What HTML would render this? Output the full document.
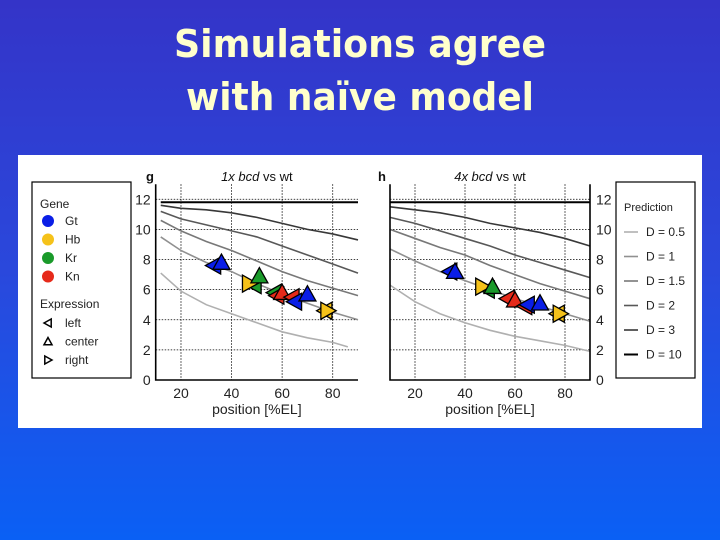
<!DOCTYPE html>
<html><head><meta charset="utf-8"><style>
html,body{margin:0;padding:0;width:720px;height:540px;overflow:hidden}
body{background:linear-gradient(180deg,#3434c8 0%,#2a48dc 50%,#0a60f5 100%);font-family:"Liberation Sans",sans-serif}
</style></head><body>
<svg id="svg" width="720" height="540" viewBox="0 0 720 540" xmlns="http://www.w3.org/2000/svg">
<text x="360" y="57" text-anchor="middle" font-family="DejaVu Sans" font-weight="bold" font-size="38" fill="#ffffcc" textLength="372" lengthAdjust="spacingAndGlyphs">Simulations agree</text>
<text x="360" y="110" text-anchor="middle" font-family="DejaVu Sans" font-weight="bold" font-size="38" fill="#ffffcc" textLength="348" lengthAdjust="spacingAndGlyphs">with naïve model</text>
<rect x="18" y="155" width="684" height="273" fill="#fff"/>
<g id="charts"></g>
</svg>
<script>
const xs=[10,20,30,40,50,60,70,80,90];
const dLabels=["D = 0.5","D = 1","D = 1.5","D = 2","D = 3","D = 10"];
const dColors=["#b0b0b0","#909090","#787878","#585858","#383838","#000"];
const leftCurves=[
 [7.1,5.9,5.0,4.4,3.8,3.2,2.8,2.5,null],
 [9.5,8.6,7.8,7.2,6.4,5.7,5.1,4.5,4.0],
 [10.6,9.9,9.2,8.6,7.9,7.2,6.6,6.1,5.6],
 [11.2,10.7,10.3,9.9,9.5,8.9,8.3,7.7,7.1],
 [11.6,11.4,11.3,11.1,10.8,10.4,10.0,9.7,9.3],
 [11.8,11.8,11.8,11.8,11.8,11.8,11.8,11.8,11.8]];
const rightCurves=[
 [6.3,5.2,4.4,3.8,3.3,2.9,2.6,2.3,1.9],
 [8.7,7.9,7.2,6.6,6.0,5.4,4.9,4.4,3.9],
 [10.0,9.4,8.8,8.3,7.6,7.0,6.4,5.9,5.4],
 [10.8,10.4,9.9,9.4,8.9,8.3,7.8,7.3,6.8],
 [11.5,11.3,11.1,10.8,10.4,10.1,9.8,9.4,8.9],
 [11.8,11.8,11.8,11.8,11.8,11.8,11.8,11.8,11.8]];
const geneColors={Gt:"#0a1ee6",Hb:"#f5c21a",Kr:"#1a9a2a",Kn:"#e62a1a"};
const leftGene=["Gt","Gt","Kr","Hb","Kr","Kr","Kn","Kn","Kn","Gt","Gt","Hb","Hb"];
const leftExpr=["left","center","left","right","center","left","left","center","left","left","center","left","right"];
const leftPos=[33,36,49,47,51,57,58,60,64,65,70,77,78];
const leftShift=[7.6,7.8,6.3,6.4,6.9,5.8,5.6,5.8,5.5,5.2,5.7,4.6,4.6];
const rightGene=["Gt","Gt","Kr","Hb","Kr","Kn","Kn","Kn","Gt","Gt","Hb","Hb"];
const rightExpr=["left","center","left","right","center","left","center","left","left","center","left","right"];
const rightPos=[34,36,49,47,51,57,60,64,65,70,77,78];
const rightShift=[7.2,7.2,6.0,6.2,6.2,5.4,5.3,4.9,5.0,5.1,4.4,4.4];
const xTicks=[20,40,60,80];
const yTicks=[0,2,4,6,8,10,12];
const NS="http://www.w3.org/2000/svg";
const root=document.getElementById('charts');
function mk(tag,attrs,parent,text){const e=document.createElementNS(NS,tag);for(const k in attrs)e.setAttribute(k,attrs[k]);if(text!==undefined)e.textContent=text;(parent||root).appendChild(e);return e;}
function tri(cx,cy,dir,s){
 if(dir==="left")return `${cx-s},${cy} ${cx+s*0.8},${cy-s} ${cx+s*0.8},${cy+s}`;
 if(dir==="right")return `${cx+s},${cy} ${cx-s*0.8},${cy-s} ${cx-s*0.8},${cy+s}`;
 return `${cx},${cy-s} ${cx-s},${cy+s*0.8} ${cx+s},${cy+s*0.8}`;}
function chart(cfg){
 const g=mk('g',{});
 
 
 const X=v=>cfg.x0+(v-10)/80*(cfg.x1-cfg.x0);
 const Y=v=>380-v*15.06;
 for(const t of xTicks){const l=mk('line',{x1:X(t),x2:X(t),y1:Y(13),y2:Y(0),stroke:"#000","stroke-width":0.8,"stroke-dasharray":"1.5,1.5"},g);
  
  const tx=mk('text',{x:X(t),y:398,"text-anchor":"middle","font-size":14,fill:"#222"},g,String(t));
  }
 for(const t of yTicks){
  if(t>0){const l=mk('line',{x1:X(10),x2:X(90),y1:Y(t),y2:Y(t),stroke:"#000","stroke-width":0.8,"stroke-dasharray":"1.5,1.5"},g);
  }
  const tx=mk('text',{x:cfg.right?X(90)+6:X(10)-5,y:Y(t)+5,"text-anchor":cfg.right?"start":"end","font-size":14,fill:"#222"},g,String(t));
  }
 cfg.curves.forEach((c,i)=>{let d="";c.forEach((v,j)=>{if(v===null)return;let xv=xs[j];if(j===0&&!cfg.right)xv=12;d+=(d?"L":"M")+X(xv)+","+Y(v);});
  if(i===0&&!cfg.right)d+="L"+X(86)+","+Y(2.2);
  const p=mk('path',{d:d,fill:"none",stroke:dColors[i],"stroke-width":i===5?2:1.6},g);
  });
 const ax=mk('path',{d:`M${X(10)},${Y(13)}V${Y(0)}H${X(90)}${cfg.right?"V"+Y(13):""}`,fill:"none",stroke:"#000","stroke-width":1.6},g);
 
 cfg.pos.forEach((p,i)=>{const m=mk('polygon',{points:tri(X(p),Y(cfg.shift[i]),cfg.expr[i],8.5),fill:geneColors[cfg.gene[i]],stroke:"#000","stroke-width":1.3},g);
  });
 const t1=mk('text',{x:(X(10)+X(90))/2,y:181,"text-anchor":"middle","font-size":13,fill:"#111"},g);
 t1.innerHTML=`<tspan font-style="italic">${cfg.title}</tspan>  vs wt`;
 
 const pl=mk('text',{x:cfg.letterX,y:181,"font-size":13,"font-weight":"bold",fill:"#111"},g,cfg.letter);
 
 const xl=mk('text',{x:(X(10)+X(90))/2,y:414,"text-anchor":"middle","font-size":14,fill:"#222"},g,"position [%EL]");
 
}
chart({name:'chart-1x-bcd',x0:155.7,x1:358,curves:leftCurves,gene:leftGene,expr:leftExpr,pos:leftPos,shift:leftShift,title:'1x bcd',letter:'g',letterX:146});
chart({name:'chart-4x-bcd',x0:390,x1:590,curves:rightCurves,gene:rightGene,expr:rightExpr,pos:rightPos,shift:rightShift,title:'4x bcd',letter:'h',letterX:378,right:true});
const yl=mk('text',{x:0,y:0,transform:"translate(125,280) rotate(-90)","text-anchor":"middle","font-size":14,fill:"#222"},root,"boundary shift Δx [%EL]");

const lg=mk('g',{});

mk('rect',{x:32,y:182,width:99,height:196,fill:"#fff",stroke:"#000","stroke-width":1.2},lg);
mk('text',{x:40,y:208,"font-size":12,fill:"#222"},lg,"Gene");
Object.keys(geneColors).forEach((k,i)=>{const y=221+i*18.5;
 const c=mk('circle',{cx:48,cy:y,r:6,fill:geneColors[k]},lg);
 
 mk('text',{x:65,y:y+4,"font-size":12,fill:"#222"},lg,k);});
mk('text',{x:40,y:308,"font-size":12,fill:"#222"},lg,"Expression");
["left","center","right"].forEach((k,i)=>{const y=323+i*18.5;
 const p=mk('polygon',{points:tri(48,y,k,4),fill:"none",stroke:"#000","stroke-width":1.5},lg);
 
 mk('text',{x:65,y:y+4,"font-size":12,fill:"#222"},lg,k);});
const pg=mk('g',{});

mk('rect',{x:616,y:182,width:79,height:196,fill:"#fff",stroke:"#000","stroke-width":1.2},pg);
mk('text',{x:624,y:211,"font-size":11,fill:"#222"},pg,"Prediction");
dLabels.forEach((k,i)=>{const y=232+i*24.5;
 const l=mk('line',{x1:624,x2:638,y1:y,y2:y,stroke:dColors[i],"stroke-width":i===5?2:1.6},pg);
 
 mk('text',{x:646,y:y+4,"font-size":12,fill:"#222"},pg,k);});
</script>
</body></html>
